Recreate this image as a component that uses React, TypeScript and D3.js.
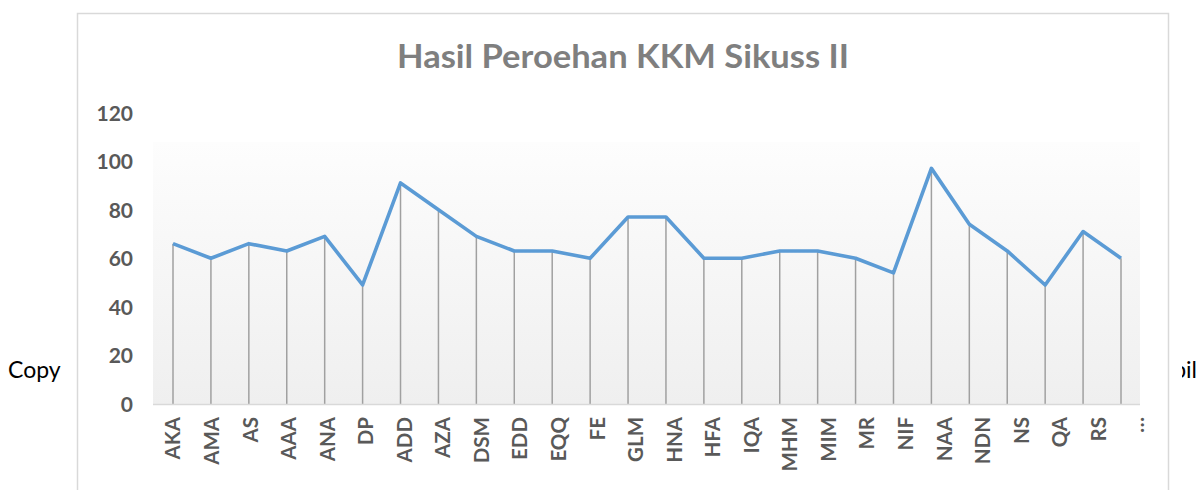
import * as d3 from "d3";
import React from "react";

// values
const categories = [
  "AKA", "AMA", "AS", "AAA", "ANA", "DP", "ADD", "AZA", "DSM", "EDD", "EQQ", "FE", "GLM",
  "HNA", "HFA", "IQA", "MHM", "MIM", "MR", "NIF", "NAA", "NDN", "NS", "QA", "RS", "…",
];
const scores = [
  66, 60, 66, 63, 69, 49, 91, 80, 69, 63, 63, 60, 77,
  77, 60, 60, 63, 63, 60, 54, 97, 74, 63, 49, 71, 60,
];
const yTicks = [0, 20, 40, 60, 80, 100, 120];
const title = "Hasil Peroehan KKM Sikuss II";

const W = 1203;
const H = 490;
const font = "Lato, 'Open Sans', sans-serif";

const App = () => {
  const x = d3.scalePoint<string>().domain(categories).range([173, 1121]);
  // the category labels in the original sit on a slightly wider spread
  const xLabel = d3.scalePoint<string>().domain(categories).range([173, 1137]);
  const y = d3.scaleLinear().domain([0, 120]).range([404, 112.5]);

  const line = d3
    .line<number>()
    .x((d, i) => x(categories[i]) as number)
    .y((d) => y(d));

  const plotLeft = 153;
  const plotRight = 1140;
  const plotTop = 142;

  return (
    <svg
      width={W}
      height={H}
      style={{ position: "absolute", left: 0, top: 0, background: "#fff" }}
    >
      <defs>
        <linearGradient id="plotFill" x1="0" y1="0" x2="0" y2="1">
          <stop offset="0%" stopColor="#fdfdfd" />
          <stop offset="100%" stopColor="#efefef" />
        </linearGradient>
        <clipPath id="rightClip">
          <rect x={1182} y={0} width={30} height={H} />
        </clipPath>
      </defs>

      {/* text peeking out around the chart object */}
      <text x={8} y={378} fontFamily={font} fontSize={23} fill="#000">
        Copy
      </text>
      <text
        x={1197}
        y={378}
        textAnchor="end"
        fontFamily={font}
        fontSize={23}
        fill="#000"
        clipPath="url(#rightClip)"
      >
        Tampil
      </text>

      {/* chart frame */}
      <rect x={77.5} y={13.5} width={1091} height={500} fill="#fff" stroke="#d9d9d9" strokeWidth={1.5} />

      <text
        x={623}
        y={68}
        textAnchor="middle"
        fontFamily={font}
        fontWeight="bold"
        fontSize={33}
        fill="#7f7f7f"
        textLength={452}
        lengthAdjust="spacingAndGlyphs"
      >
        {title}
      </text>

      <rect
        x={plotLeft}
        y={plotTop}
        width={plotRight - plotLeft}
        height={y(0) - plotTop}
        fill="url(#plotFill)"
      />

      {/* y axis labels */}
      {yTicks.map((t) => (
        <text
          key={t}
          x={133}
          y={y(t) + 8}
          textAnchor="end"
          fontFamily={font}
          fontWeight="bold"
          fontSize={21}
          fill="#595959"
        >
          {t}
        </text>
      ))}

      {/* drop lines */}
      {scores.map((v, i) => (
        <line
          key={i}
          x1={x(categories[i])}
          x2={x(categories[i])}
          y1={y(v)}
          y2={y(0)}
          stroke="#a0a0a0"
          strokeWidth={1.5}
        />
      ))}

      <line x1={plotLeft} x2={plotRight} y1={y(0) + 0.5} y2={y(0) + 0.5} stroke="#d9d9d9" strokeWidth={1.5} />

      <path
        d={line(scores) || ""}
        fill="none"
        stroke="#5b9bd5"
        strokeWidth={3.6}
        strokeLinejoin="round"
      />

      {/* category labels, rotated */}
      {categories.map((c) => (
        <text
          key={c}
          transform={`translate(${xLabel(c)},${417}) rotate(-90)`}
          textAnchor="end"
          dy="0.36em"
          fontFamily={font}
          fontWeight="bold"
          fontSize={20.5}
          fill="#595959"
        >
          {c}
        </text>
      ))}
    </svg>
  );
};

export default App;
